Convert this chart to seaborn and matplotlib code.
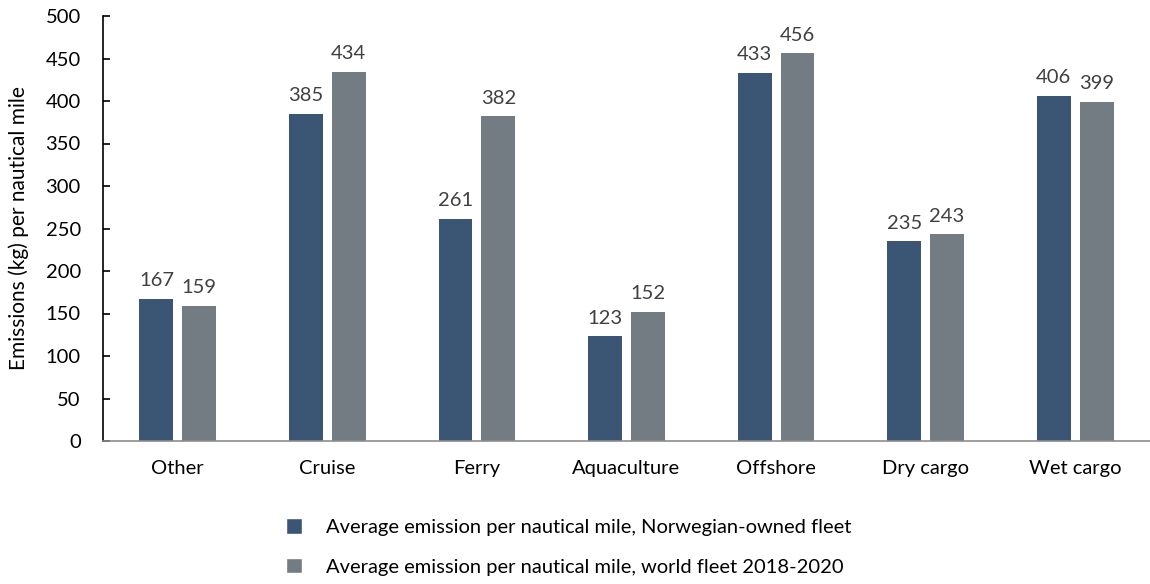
import matplotlib
matplotlib.use("Agg")
import matplotlib.pyplot as plt
import seaborn as sns
import pandas as pd

categories = ["Other", "Cruise", "Ferry", "Aquaculture", "Offshore", "Dry cargo", "Wet cargo"]
norwegian = [167, 385, 261, 123, 433, 235, 406]
world = [159, 434, 382, 152, 456, 243, 399]
series_names = [
    "Average emission per nautical mile, Norwegian-owned fleet",
    "Average emission per nautical mile, world fleet 2018-2020",
]
y_ticks = [0, 50, 100, 150, 200, 250, 300, 350, 400, 450, 500]

df = pd.DataFrame({
    "category": categories * 2,
    "value": norwegian + world,
    "series": [series_names[0]] * len(categories) + [series_names[1]] * len(categories),
})

sns.set_theme(style="white")
plt.rcParams["font.family"] = ["Lato", "DejaVu Sans"]

colors = ["#3B5675", "#737B83"]
text_color = "#404040"

fig = plt.figure(figsize=(11.5, 5.84), dpi=100)
ax = fig.add_axes([103 / 1150, 1 - 441 / 584, 1047 / 1150, 425 / 584])

sns.barplot(data=df, x="category", y="value", hue="series", palette=colors,
            width=0.573, dodge=True, ax=ax, legend=True, saturation=1)

# narrow the bars around their dodged centres to leave a small gap
bar_w = 0.227
for patch in ax.patches:
    if patch.get_height() == 0 and patch.get_width() == 0:
        continue
    cx = patch.get_x() + patch.get_width() / 2
    patch.set_width(bar_w)
    patch.set_x(cx - bar_w / 2)
    patch.set_linewidth(0)

for container in ax.containers:
    ax.bar_label(container, fmt="%d", padding=7, fontsize=14.5, color=text_color)

ax.set_ylim(0, 500)
ax.set_yticks(y_ticks)
ax.set_xlim(-0.5, len(categories) - 0.5)
ax.set_xlabel("")
ax.set_ylabel("Emissions (kg) per nautical mile", fontsize=15, color="black", labelpad=12)

ax.tick_params(axis="y", direction="in", length=5, width=1.2, color="black",
               labelsize=14.5, labelcolor="black", pad=16, left=True)
ax.tick_params(axis="x", length=0, labelsize=14.5, labelcolor="black", pad=14)

for side in ["top", "right"]:
    ax.spines[side].set_visible(False)
ax.spines["left"].set_color("black")
ax.spines["left"].set_linewidth(1.2)
ax.spines["bottom"].set_color("#8C8C8C")
ax.spines["bottom"].set_linewidth(1.2)

handles, labels = ax.get_legend_handles_labels()
ax.get_legend().remove()
fig.legend(handles, labels, loc="upper left", bbox_to_anchor=(268 / 1150, 1 - 500 / 584),
           frameon=False, fontsize=14.5, handlelength=0.8, handleheight=0.8,
           handletextpad=1.2, labelspacing=1.1, labelcolor="black")

fig.savefig("out.png", dpi=100)
